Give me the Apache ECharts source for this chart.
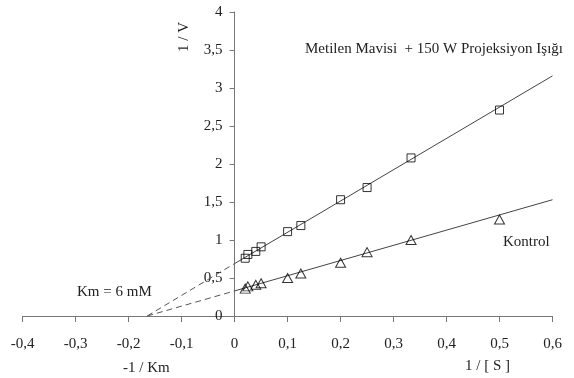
<!DOCTYPE html>
<html><head><meta charset="utf-8">
<script src="https://cdn.jsdelivr.net/npm/echarts@6/dist/echarts.min.js"></script>
<style>html,body{margin:0;padding:0;background:#fff}#c{width:574px;height:378px}</style>
</head><body><div id="c"></div>
<script>
// 1/[S] values
const xValues = [0.02, 0.025, 0.04, 0.05, 0.1, 0.125, 0.2, 0.25, 0.333, 0.5];
// 1/V, Metilen Mavisi + 150 W Projeksiyon Işığı
const squareValues = [0.76, 0.81, 0.85, 0.91, 1.11, 1.19, 1.53, 1.69, 2.08, 2.71];
// 1/V, Kontrol
const triangleValues = [0.36, 0.39, 0.41, 0.43, 0.50, 0.56, 0.70, 0.84, 1.00, 1.27];
// fitted lines: x-intercept (-1/Km), y-intercepts and values at x = 0.6
const kmX = -0.165;
const squareFitX = [kmX, 0, 0.6];
const squareFitY = [0, 0.69, 3.16];
const triangleFitX = [kmX, 0, 0.6];
const triangleFitY = [0, 0.33, 1.53];
const xTicks = [-0.4, -0.3, -0.2, -0.1, 0, 0.1, 0.2, 0.3, 0.4, 0.5, 0.6];
const yTicks = [0, 0.5, 1, 1.5, 2, 2.5, 3, 3.5, 4];

const font = 'Liberation Serif';
const pair = (xs, ys) => xs.map((x, i) => [x, ys[i]]);
const fmt = v => String(Math.round(v * 10) / 10).replace('.', ',');

const W = 574, gl = 22.7, gr = 21.5;
const plotW = W - gl - gr;
const yAxisOffset = -plotW * (0 - xTicks[0]) / (xTicks[xTicks.length - 1] - xTicks[0]);

const chart = echarts.init(document.getElementById('c'), null, {renderer: 'canvas'});
chart.setOption({
  animation: false,
  backgroundColor: '#fff',
  grid: {left: gl, right: gr, top: 12, bottom: 62, containLabel: false},
  xAxis: {
    type: 'value', min: xTicks[0], max: xTicks[xTicks.length - 1], interval: 0.1,
    axisLine: {onZero: true, lineStyle: {color: '#777', width: 1}},
    axisTick: {show: true, inside: false, length: 6, lineStyle: {color: '#777'}},
    axisLabel: {formatter: fmt, fontFamily: font, fontSize: 15, color: '#222', margin: 21},
    splitLine: {show: false}
  },
  yAxis: {
    type: 'value', min: yTicks[0], max: yTicks[yTicks.length - 1], interval: 0.5,
    position: 'left', offset: yAxisOffset,
    axisLine: {show: true, onZero: false, lineStyle: {color: '#777', width: 1}},
    axisTick: {show: true, inside: false, length: 5, lineStyle: {color: '#777'}},
    axisLabel: {formatter: fmt, fontFamily: font, fontSize: 15, color: '#222', margin: 12},
    splitLine: {show: false}
  },
  graphic: [
    {type: 'text', left: 177, top: 22, rotation: Math.PI / 2, style: {text: '1 / V', font: '15px ' + font, fill: '#222'}},
    {type: 'text', left: 123, top: 361, style: {text: '-1 / Km', font: '15px ' + font, fill: '#222'}},
    {type: 'text', left: 465, top: 359, style: {text: '1 / [ S ]', font: '15px ' + font, fill: '#222'}},
    {type: 'text', left: 77, top: 285, style: {text: 'Km = 6 mM', font: '15px ' + font, fill: '#222'}},
    {type: 'text', left: 503, top: 235, style: {text: 'Kontrol', font: '15px ' + font, fill: '#222'}},
    {type: 'text', left: 305, top: 42, style: {text: 'Metilen Mavisi  + 150 W Projeksiyon Işığı', font: '15px ' + font, fill: '#222'}}
  ],
  series: [
    {type: 'line', data: pair(squareFitX, squareFitY).slice(0, 2), symbol: 'none', lineStyle: {color: '#555', width: 1, type: [6, 4]}, z: 1},
    {type: 'line', data: pair(squareFitX, squareFitY).slice(1), symbol: 'none', lineStyle: {color: '#444', width: 1}, z: 1},
    {type: 'line', data: pair(triangleFitX, triangleFitY).slice(0, 2), symbol: 'none', lineStyle: {color: '#555', width: 1, type: [6, 4]}, z: 1},
    {type: 'line', data: pair(triangleFitX, triangleFitY).slice(1), symbol: 'none', lineStyle: {color: '#444', width: 1}, z: 1},
    {type: 'scatter', data: pair(xValues, squareValues), symbol: 'rect', symbolSize: [8, 8],
     itemStyle: {color: 'rgba(255,255,255,0)', borderColor: '#000', borderWidth: 1}, z: 3},
    {type: 'scatter', data: pair(xValues, triangleValues), symbol: 'triangle', symbolSize: [10, 9],
     itemStyle: {color: 'rgba(255,255,255,0)', borderColor: '#000', borderWidth: 1}, z: 3}
  ]
});
</script></body></html>
